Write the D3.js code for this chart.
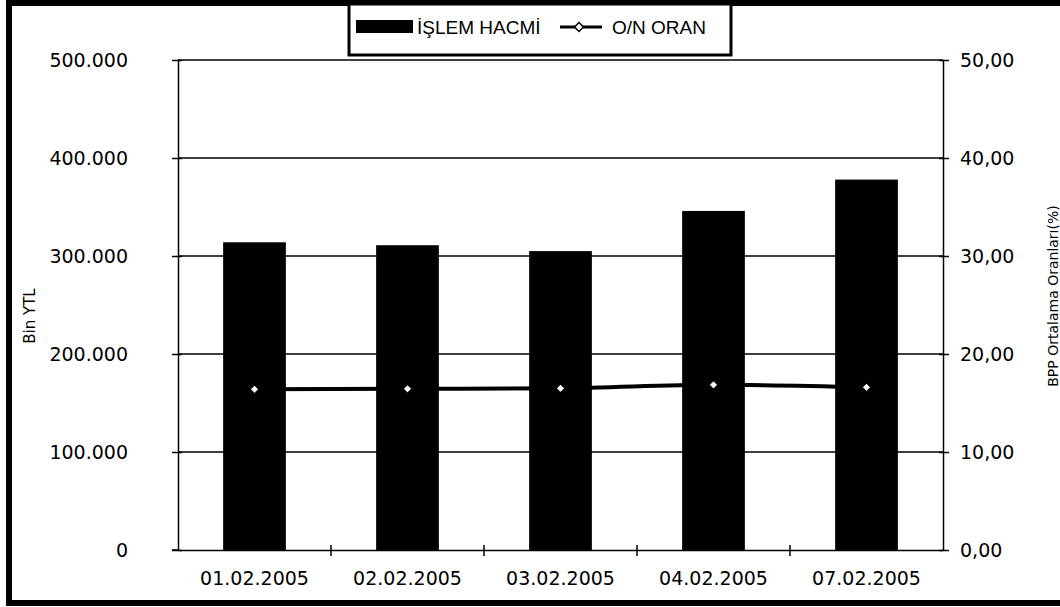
<!DOCTYPE html>
<html>
<head>
<meta charset="UTF-8">
<title>İşlem Hacmi - O/N Oran</title>
<style>
	body { margin: 0; background: #fff; }
	text { font-family: "DejaVu Sans", sans-serif; fill: #000; }
	.tick text { font-size: 19px; }
	.axis path, .axis line { stroke: #000; stroke-width: 1.5px; }
	.grid line { stroke: #000; stroke-width: 1.5px; }
	.legend text { font-family: "Liberation Sans", Arial, sans-serif; font-size: 19px; }
</style>
</head>
<body>
<script src="https://d3js.org/d3.v7.min.js"></script>
<script>

var dates = ["01.02.2005", "02.02.2005", "03.02.2005", "04.02.2005", "07.02.2005"];
var volume = [314000, 311000, 305000, 346000, 378000];   // İŞLEM HACMİ (Bin YTL)
var rate = [16.40, 16.45, 16.50, 16.85, 16.60];          // O/N ORAN (%)
var leftTicks = [0, 100000, 200000, 300000, 400000, 500000];
var rightTicks = [0, 10, 20, 30, 40, 50];

var width = 1060, height = 607;
var margin = {top: 60, right: 117, bottom: 57, left: 178};

var tr = d3.formatLocale({decimal: ",", thousands: ".", grouping: [3], currency: ["", ""]});
var fmtLeft = tr.format(",.0f");
var fmtRight = tr.format(",.2f");

var svg = d3.select("body").append("svg")
	.attr("width", width)
	.attr("height", height);

var x = d3.scaleBand()
	.domain(dates)
	.range([margin.left, width - margin.right]);

var yL = d3.scaleLinear()
	.domain([0, 500000])
	.range([height - margin.bottom, margin.top]);

var yR = d3.scaleLinear()
	.domain([0, 50])
	.range([height - margin.bottom, margin.top]);

// outer frame (right edge runs off the scan)
svg.append("rect")
	.attr("x", 9).attr("y", 3)
	.attr("width", 1056).attr("height", 600)
	.attr("fill", "none")
	.attr("stroke", "#000")
	.attr("stroke-width", 6);

// grid
svg.append("g")
	.attr("class", "grid")
	.selectAll("line")
	.data(leftTicks.slice(1))
	.enter().append("line")
	.attr("x1", margin.left)
	.attr("x2", width - margin.right)
	.attr("y1", function(d){ return yL(d); })
	.attr("y2", function(d){ return yL(d); });

// bars
var barW = x.bandwidth() * 0.41;
svg.append("g")
	.selectAll("rect")
	.data(volume)
	.enter().append("rect")
	.attr("x", function(d, i){ return x(dates[i]) + x.bandwidth() / 2 - barW / 2; })
	.attr("y", function(d){ return yL(d); })
	.attr("width", barW)
	.attr("height", function(d){ return yL(0) - yL(d); })
	.attr("fill", "#000");

// left axis
var axL = svg.append("g")
	.attr("class", "axis")
	.attr("transform", "translate(" + margin.left + ",0)")
	.call(d3.axisLeft(yL).tickValues(leftTicks).tickFormat(fmtLeft).tickSize(6).tickPadding(44).tickSizeOuter(0));
axL.selectAll(".tick line").attr("x2", -6).attr("x1", 4);

// right axis
var axR = svg.append("g")
	.attr("class", "axis")
	.attr("transform", "translate(" + (width - margin.right) + ",0)")
	.call(d3.axisRight(yR).tickValues(rightTicks).tickFormat(fmtRight).tickSize(6).tickPadding(11).tickSizeOuter(0));
axR.selectAll(".tick line").attr("x1", -4);

// bottom axis: ticks at category boundaries
var axB = svg.append("g")
	.attr("class", "axis")
	.attr("transform", "translate(0," + (height - margin.bottom) + ")")
	.call(d3.axisBottom(x).tickSize(0).tickPadding(22).tickSizeOuter(0));
axB.selectAll(".tick text").attr("dy", "0.71em");
axB.selectAll(".bound")
	.data(dates.slice(1))
	.enter().append("line")
	.attr("class", "bound")
	.attr("x1", function(d){ return x(d); })
	.attr("x2", function(d){ return x(d); })
	.attr("y1", -5).attr("y2", 6);
svg.append("line")
	.attr("x1", margin.left - 6).attr("x2", margin.left)
	.attr("y1", yL(0)).attr("y2", yL(0))
	.attr("stroke", "#000").attr("stroke-width", 1.5);

// O/N line
var line = d3.line()
	.x(function(d, i){ return x(dates[i]) + x.bandwidth() / 2; })
	.y(function(d){ return yR(d); })
	.curve(d3.curveMonotoneX);

svg.append("path")
	.datum(rate)
	.attr("d", line)
	.attr("fill", "none")
	.attr("stroke", "#000")
	.attr("stroke-width", 4);

var diamond = d3.symbol().type(d3.symbolSquare).size(30);
svg.append("g")
	.selectAll("path")
	.data(rate)
	.enter().append("path")
	.attr("d", diamond)
	.attr("transform", function(d, i){
		return "translate(" + (x(dates[i]) + x.bandwidth() / 2) + "," + yR(d) + ") rotate(45)";
	})
	.attr("fill", "#fff")
	.attr("stroke", "#000")
	.attr("stroke-width", 0.6);

// axis titles
svg.append("text")
	.attr("transform", "translate(35,316) rotate(-90)")
	.attr("text-anchor", "middle")
	.style("font-size", "15px")
	.text("Bin YTL");

svg.append("text")
	.attr("transform", "translate(1058,296) rotate(-90)")
	.attr("text-anchor", "middle")
	.style("font-size", "14px")
	.text("BPP Ortalama Oranları(%)");

// legend
var lg = svg.append("g").attr("class", "legend");
lg.append("rect")
	.attr("x", 349).attr("y", 4)
	.attr("width", 382).attr("height", 51)
	.attr("fill", "#fff")
	.attr("stroke", "#000")
	.attr("stroke-width", 3);
lg.append("rect")
	.attr("x", 356).attr("y", 20)
	.attr("width", 57).attr("height", 13)
	.attr("fill", "#000");
lg.append("text")
	.attr("x", 417).attr("y", 34)
	.text("İŞLEM HACMİ");
lg.append("line")
	.attr("x1", 560).attr("x2", 602)
	.attr("y1", 27).attr("y2", 27)
	.attr("stroke", "#000").attr("stroke-width", 3);
lg.append("path")
	.attr("d", d3.symbol().type(d3.symbolSquare).size(40))
	.attr("transform", "translate(579,27) rotate(45)")
	.attr("fill", "#fff")
	.attr("stroke", "#000")
	.attr("stroke-width", 1.5);
lg.append("text")
	.attr("x", 612).attr("y", 34)
	.text("O/N ORAN");

</script>
</body>
</html>
